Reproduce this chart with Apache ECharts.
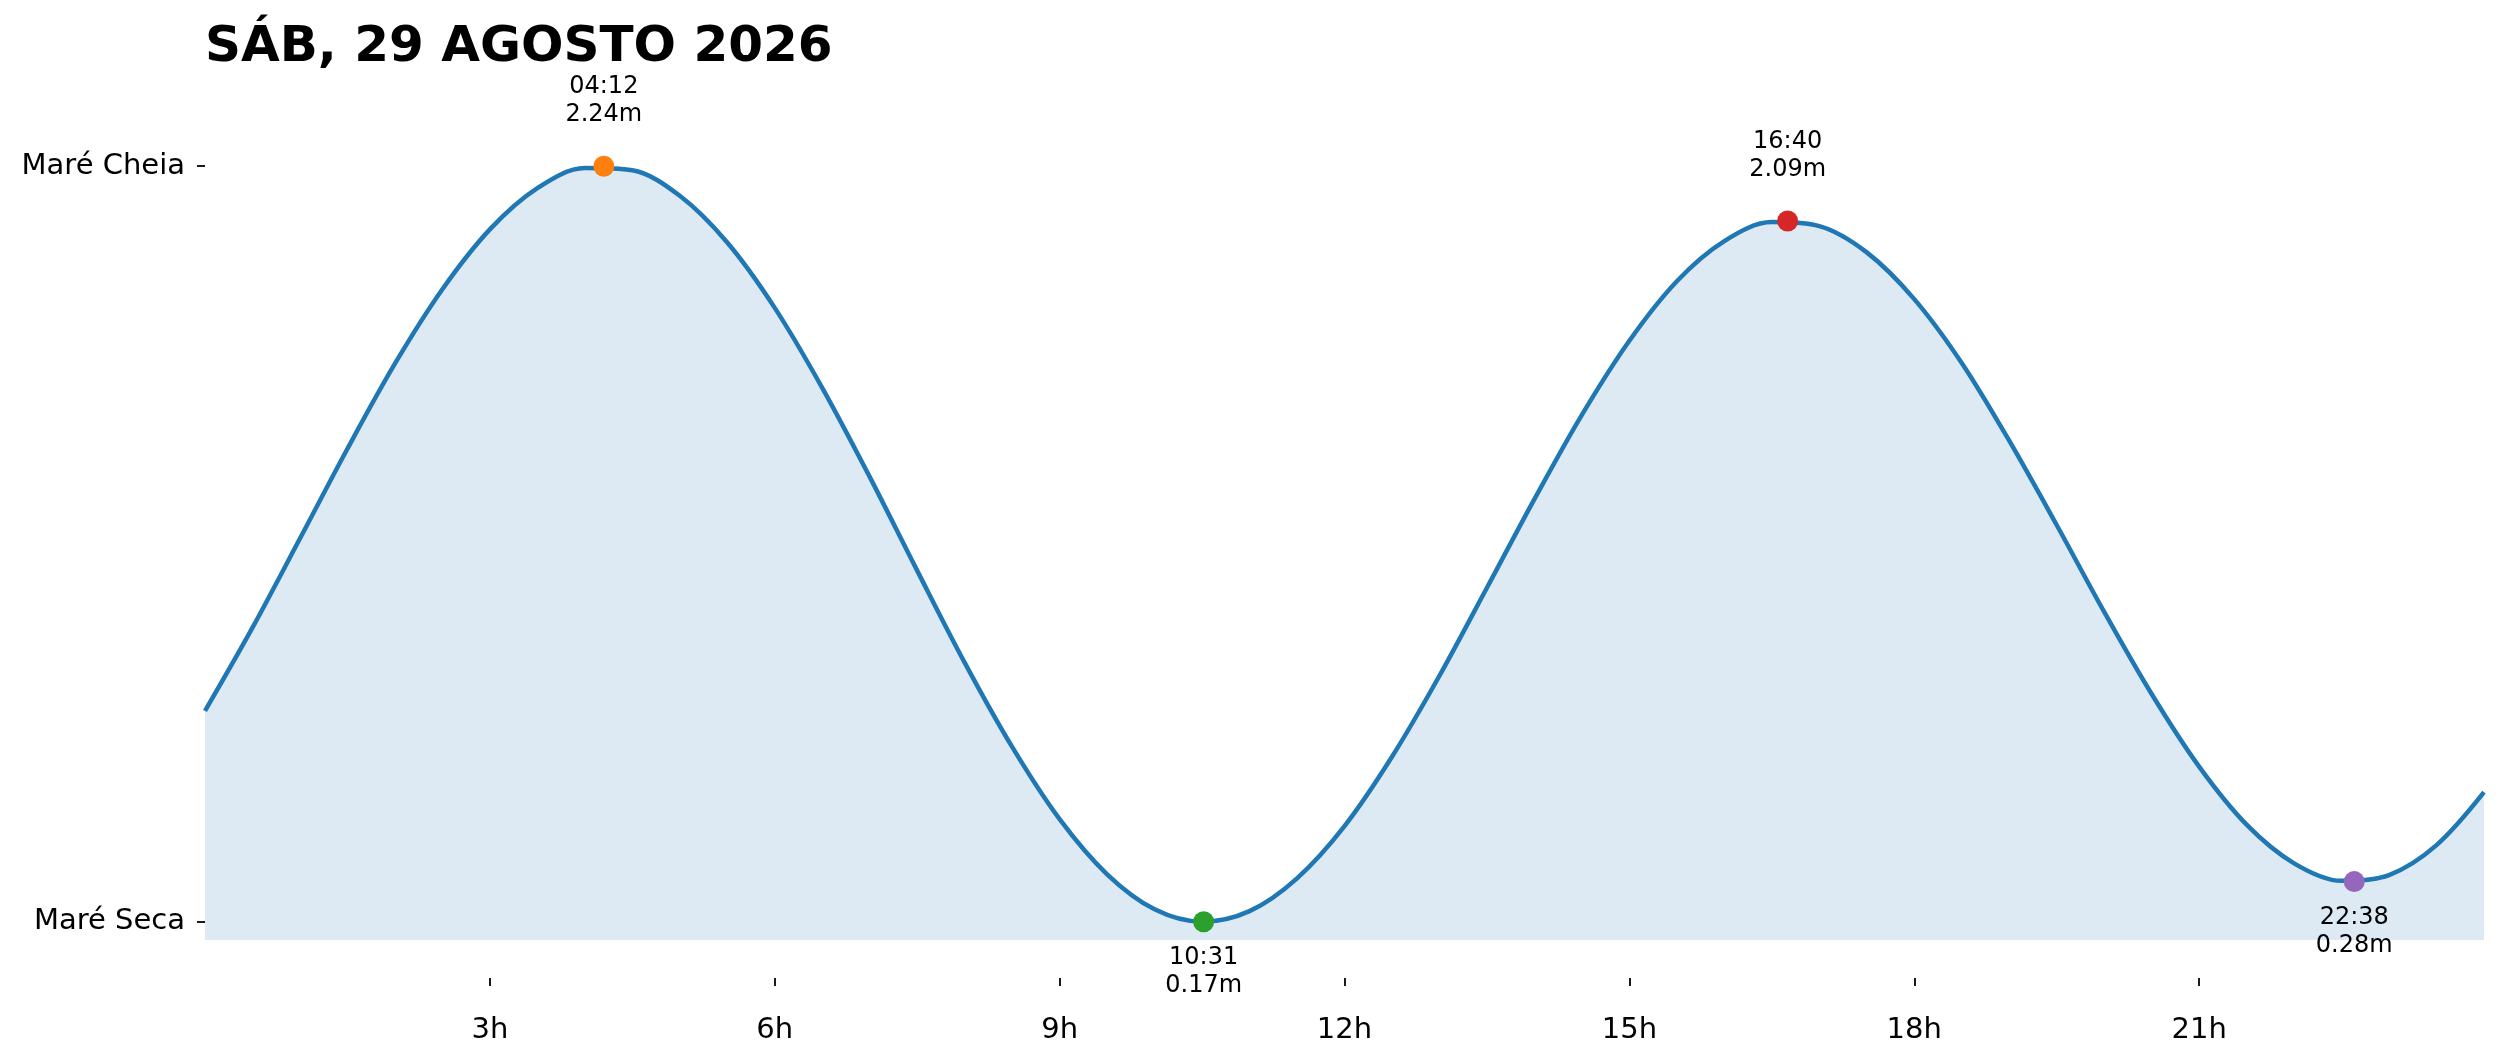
<!DOCTYPE html>
<html>
<head>
<meta charset="utf-8">
<title>Marés</title>
<script src="https://cdn.jsdelivr.net/npm/echarts@6/dist/echarts.min.js"></script>
<style>
	html, body { margin: 0; padding: 0; background: #fff; }
	#graficaMares { width: 2501px; height: 1062px; }
</style>
</head>
<body>
<div id="graficaMares"></div>
<script>
// Datos
var titulo = 'SÁB, 29 AGOSTO 2026';

// curva cada media hora (h, metros)
var horasCurva = [0, 0.5, 1, 1.5, 2, 2.5, 3, 3.5, 4, 4.5, 5, 5.5, 6, 6.5, 7, 7.5, 8, 8.5, 9, 9.5, 10, 10.5,
	11, 11.5, 12, 12.5, 13, 13.5, 14, 14.5, 15, 15.5, 16, 16.5, 17, 17.5, 18, 18.5, 19, 19.5, 20, 20.5,
	21, 21.5, 22, 22.5, 23, 23.5, 24];
var alturasCurva = [0.748, 0.976, 1.220, 1.466, 1.699, 1.903, 2.067, 2.180, 2.235, 2.229, 2.159, 2.031,
	1.852, 1.633, 1.389, 1.132, 0.880, 0.649, 0.451, 0.300, 0.204, 0.170, 0.199, 0.289,
	0.432, 0.622, 0.844, 1.085, 1.328, 1.559, 1.762, 1.925, 2.035, 2.087, 2.076, 2.004,
	1.876, 1.701, 1.488, 1.257, 1.019, 0.794, 0.595, 0.436, 0.330, 0.282, 0.298, 0.380, 0.525];

// pleamares y bajamares
var horasExtremos = ['04:12', '10:31', '16:40', '22:38'];
var alturasExtremos = [2.24, 0.17, 2.09, 0.28];
var tiposExtremos = ['alta', 'baja', 'alta', 'baja'];

// ejes
var ticksX = [3, 6, 9, 12, 15, 18, 21];
var ticksY = [0.17, 2.24];
var etiquetasY = ['Maré Seca', 'Maré Cheia'];

var coloresExtremos = ['#ff7f0e', '#2ca02c', '#d62728', '#9467bd'];

function aHoras(txt) {
	var p = txt.split(':');
	return parseInt(p[0], 10) + parseInt(p[1], 10) / 60;
}

function graficar() {
	var chart = echarts.init(document.getElementById('graficaMares'));

	var puntos = horasCurva.map(function (h, i) {
		return [h, alturasCurva[i]];
	});

	var extremos = horasExtremos.map(function (h, k) {
		var alta = tiposExtremos[k] === 'alta';
		return {
			value: [aHoras(h), alturasExtremos[k]],
			name: h,
			itemStyle: { color: coloresExtremos[k], opacity: 1 },
			label: {
				position: alta ? 'top' : 'bottom',
				distance: alta ? 27 : 12,
				color: '#000'
			}
		};
	});

	var option = {
		animation: false,
		backgroundColor: '#fff',
		textStyle: { fontFamily: 'DejaVu Sans' },

		title: {
			text: titulo,
			left: 200,
			top: 18,
			textStyle: {
				fontFamily: 'DejaVu Sans',
				fontWeight: 'bold',
				fontSize: 50,
				color: '#000'
			}
		},

		grid: {
			left: 205,
			right: 17,
			top: 148,
			bottom: 122
		},

		xAxis: {
			type: 'value',
			min: 0,
			max: 24,
			interval: 3,
			offset: 38,
			axisLine: { show: false },
			splitLine: { show: false },
			axisTick: {
				show: true,
				length: 8,
				customValues: ticksX,
				lineStyle: { color: '#000', width: 1.8 }
			},
			axisLabel: {
				customValues: ticksX,
				margin: 38,
				fontSize: 29,
				color: '#000',
				fontFamily: 'DejaVu Sans',
				formatter: function (v) { return v + 'h'; }
			}
		},

		yAxis: {
			type: 'value',
			min: 0.12,
			max: 2.29,
			axisLine: { show: false },
			splitLine: { show: false },
			axisTick: {
				show: true,
				length: 8,
				customValues: ticksY,
				lineStyle: { color: '#000', width: 1.8 }
			},
			axisLabel: {
				customValues: ticksY,
				margin: 20,
				fontSize: 29,
				color: '#000',
				fontFamily: 'DejaVu Sans',
				formatter: function (v) {
					var idx = ticksY.indexOf(v);
					return idx >= 0 ? etiquetasY[idx] : '';
				}
			}
		},

		series: [
			{
				name: 'Maré',
				type: 'line',
				data: puntos,
				smooth: 0.33,
				showSymbol: false,
				lineStyle: { color: '#1f77b4', width: 4.5 },
				areaStyle: { color: '#dde9f3', opacity: 1, origin: 'start' },
				z: 2
			},
			{
				name: 'Extremos',
				type: 'scatter',
				data: extremos,
				symbolSize: 21,
				z: 5,
				label: {
					show: true,
					fontSize: 24,
					lineHeight: 28,
					color: '#000',
					fontFamily: 'DejaVu Sans',
					align: 'center',
					formatter: function (p) {
						return p.name + '\n' + p.value[1].toFixed(2) + 'm';
					}
				}
			}
		]
	};

	chart.setOption(option);
}

graficar();
</script>
</body>
</html>
